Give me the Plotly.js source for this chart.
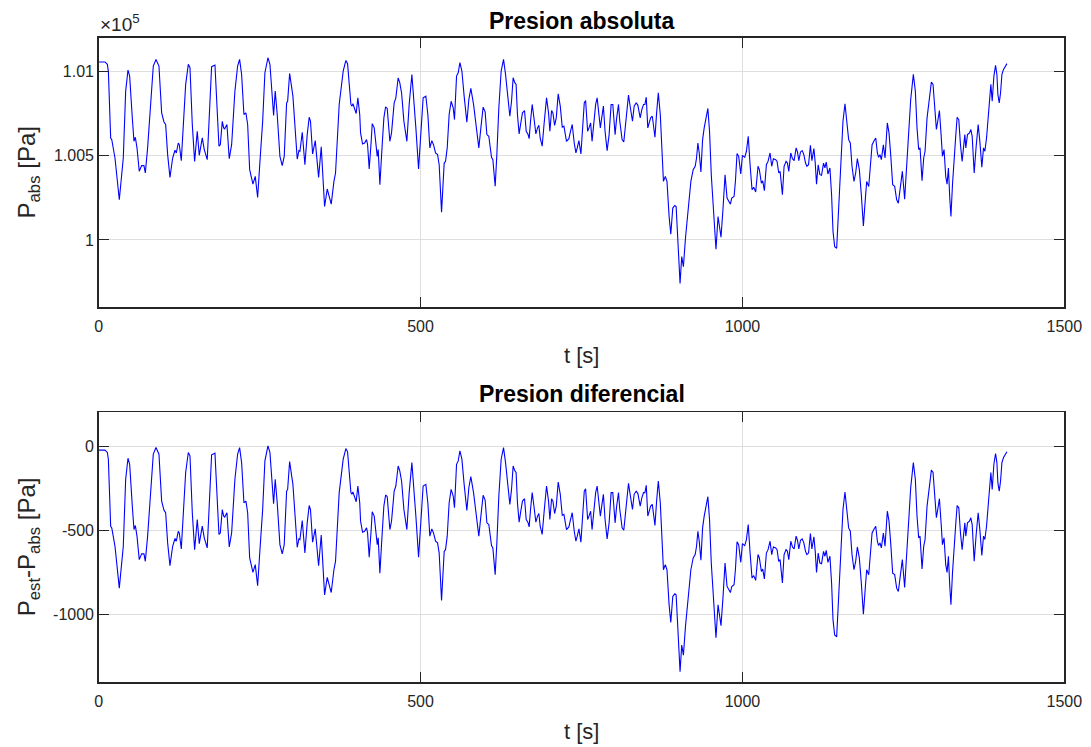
<!DOCTYPE html>
<html>
<head>
<meta charset="utf-8">
<script src="https://cdn.plot.ly/plotly-3.0.1.min.js"></script>
<style>html,body{margin:0;padding:0;background:#fff;}#chart{width:1091px;height:747px;}</style>
</head>
<body>
<div id="chart"></div>
<script>
// time [s]
const t = [
0.5,9.8,13.4,15,18.6,20.3,25.3,32,38.2,41.9,
45.5,48.1,52.2,54.8,56.9,59.5,63,66.7,70.3,72.4,
76,79.7,84.8,89,93.6,97.8,101.4,104,107.1,110.7,
114.9,118.5,120.6,123.6,125.2,128.3,131.4,135.1,139.2,141.8,
145.4,149,153.1,156.2,160.9,164,168.6,171.3,175.4,180.6,
183.2,186.8,188.9,192,194.1,195.7,199.2,202.8,206.5,211.6,
215.8,218.9,222,225.6,228.7,231.4,234.5,239.6,243.2,246.9,
250.5,254.7,258.2,262.9,266,268.6,271.7,274.2,277.3,281.5,
285.1,288.2,291.9,293.5,296.6,301.7,304.8,308.4,311,312.6,
316.2,320.3,323.9,327,329,332.3,336.4,341.6,345.7,350.9,
355,358.1,361.2,365.4,367.9,373.6,379.8,384,386.6,391.8,
393.4,394.9,400,402.6,405.5,406.8,409.9,413,416.1,417.7,
420.2,423.3,424.9,428,430.6,432.7,434.2,436.8,440.4,443,
445.7,448.2,452.3,454.9,459,461.6,465.2,467.7,470.5,474.1,
478.7,482.3,486.5,489.1,492.7,496.9,500.5,504,508.2,511.3,
514.4,517.5,520.1,523.3,526.4,528.9,532.6,536.7,538.8,541.4,
544.4,547.5,550.7,552.7,555.9,558.5,561.1,564.2,567.7,571.9,
575,578.1,582.3,586.9,590.5,593.7,597.2,600.3,603,606,
608.7,610.2,612.3,615.9,618.5,621.6,625.2,628.9,632,635.1,
638.7,641.3,643.8,646.4,648.4,650.5,653.1,655.7,658.3,661.5,
664.1,666.7,668.7,670.8,673.4,676,679.1,681.7,683.8,685.8,
688.9,692,695.7,698.8,700.9,703.5,705.6,708.2,710.8,713.8,
717,720.1,722.7,726.7,730.4,733,735.6,738.7,741.3,743.4,
746,749.1,751.7,754.3,756.4,759.5,761.6,764.2,766.4,769.9,
772,774.3,777.2,779.3,781.4,784,786.6,789.8,792.9,796,
798.6,802.2,804.5,807.5,809.5,813.1,815.7,818.8,823,826.1,
829.2,831.8,834.9,837.5,841.2,843.8,846.4,848.5,850.6,853,
855.3,857.4,860,862.1,864.1,866.7,869.3,872.4,874.5,877.3,
880.2,882.8,886.1,888.7,891.8,894.9,897,900,903.1,905.7,
908.3,911.5,915.7,919.9,923.5,926.6,928.7,930.8,932.9,935.5,
938.1,940.6,946.3,948.9,951.6,955.8,958.9,962.1,966.7,969.9,
973,976.1,978.7,981.3,983.4,987,989.1,991.6,994.2,997.4,
1000,1003.6,1006.2,1009,1011.9,1014.9,1017.5,1020.6,1024.2,1026.3,
1029.4,1031.5,1034.1,1037.2,1039.8,1042.9,1045.5,1048.1,1051.7,1053.8,
1056.4,1058.5,1062.1,1064.7,1067.8,1069.9,1072,1075.1,1077.7,1080.3,
1083.4,1085.5,1087.6,1090.2,1092.8,1095.4,1098,1100.1,1102.7,1105.6,
1107.9,1111,1113.1,1115.1,1117.7,1120.3,1122.9,1126,1128.1,1130.2,
1132.8,1135.9,1138.5,1140.7,1143.3,1146.4,1149.5,1152.6,1156.2,1159.3,
1161.9,1165,1167.6,1170.2,1173.3,1175.9,1178.5,1181.6,1184.7,1187.9,
1191,1193,1196.2,1198.8,1201.4,1204.5,1207.1,1209.6,1211.5,1213.7,
1215.8,1218.9,1221.5,1225.1,1227.7,1230.3,1233.4,1236.5,1239.6,1242.2,
1245.8,1248.4,1252,1255.1,1258.3,1261.4,1265.5,1268.6,1271.2,1273.8,
1275.9,1279,1281.6,1283.7,1286.8,1289.9,1293.5,1296.1,1298.7,1301.3,
1303.4,1306,1308.6,1310.7,1313.2,1315.8,1317.9,1320,1322.1,1323.9,
1326.3,1328.4,1331.5,1333.5,1336.1,1338.7,1341.3,1343.4,1345.5,1347,
1349.6,1352.7,1354.8,1356.9,1360,1363.1,1366.2,1368.8,1371.9,1374.5,
1376.6,1379.2,1381.8,1384.4,1385.9,1388,1390.6,1393.2,1395.3,1396.8,
1398.9,1401,1403.1,1405.6,1407.7,1409.3,1410.9
];

// absolute pressure [Pa]
const pAbs = [
101056,101056,101042,101002,100605,100595,100486,100238,100486,100883,
101008,100972,100724,100585,100609,100546,100407,100441,100441,100397,
100546,100744,101032,101071,101032,100754,100700,100685,100506,100371,
100486,100532,100516,100575,100565,100470,100704,100923,101042,101022,
100685,100466,100645,100502,100605,100536,100476,100724,101028,101038,
100863,100556,100565,100704,100665,100659,100685,100482,100565,100883,
101032,101071,100982,100744,100754,100685,100417,100331,100377,100252,
100466,100704,100992,101081,101042,100903,100738,100883,100744,100496,
100441,100496,100813,100823,100988,100853,100645,100480,100530,100526,
100639,100446,100625,100728,100704,100510,100589,100371,100552,100198,
100302,100248,100212,100347,100397,100804,101002,101065,101046,100804,
100794,100808,100750,100843,100744,100635,100569,100575,100595,100565,
100421,100585,100690,100665,100575,100496,100536,100327,100565,100724,
100790,100780,100585,100635,100813,100843,100962,100933,100873,100704,
100585,100804,100982,100863,100665,100421,100665,100843,100853,100744,
100546,100589,100565,100516,100506,100446,100165,100456,100466,100546,
100744,100823,100784,100714,100972,100992,101052,101002,100853,100698,
100833,100899,100804,100645,100546,100665,100788,100760,100625,100615,
100526,100490,100476,100318,100506,100784,101002,101071,100982,100863,
100734,100823,100962,100933,100923,100744,100629,100694,100754,100768,
100645,100629,100601,100704,100804,100728,100629,100665,100680,100605,
100556,100694,100843,100754,100645,100768,100754,100680,100724,100867,
100794,100669,100675,100585,100601,100645,100685,100575,100516,100546,
100589,100510,100665,100813,100827,100645,100665,100694,100585,100724,
100804,100843,100744,100665,100724,100794,100645,100530,100625,100804,
100804,100625,100720,100804,100704,100595,100581,100714,100859,100780,
100704,100794,100813,100800,100724,100774,100804,100804,100847,100665,
100694,100724,100734,100665,100609,100754,100873,100744,100565,100347,
100377,100347,100139,100034,100189,100204,100198,99931,99742,99901,
99841,100010,100189,100347,100417,100437,100486,100575,100516,100403,
100595,100665,100780,100645,100387,100109,99944,100139,100016,100189,
100387,100248,100228,100212,100248,100258,100347,100512,100496,100391,
100502,100490,100526,100615,100446,100298,100312,100284,100437,100417,
100337,100351,100292,100446,100466,100516,100437,100482,100476,100466,
100397,100407,100268,100437,100466,100456,100407,100516,100482,100470,
100546,100522,100470,100522,100530,100506,100456,100437,100446,100562,
100470,100542,100456,100331,100446,100387,100383,100456,100427,100462,
100391,100427,100268,100050,99960,99950,100189,100466,100704,100808,
100714,100595,100575,100437,100347,100397,100482,100417,100268,100083,
100248,100347,100317,100427,100565,100589,100605,100516,100490,100506,
100476,100565,100486,100694,100635,100506,100327,100318,100238,100218,
100327,100407,100242,100427,100645,100833,100982,100883,100665,100536,
100546,100351,100486,100526,100724,100843,100937,100923,100784,100655,
100704,100768,100625,100496,100536,100377,100331,100427,100248,100139,
100327,100482,100625,100728,100714,100565,100466,100546,100625,100546,
100625,100635,100655,100615,100397,100556,100685,100585,100431,100546,
100526,100605,100724,100823,100923,100823,100972,101036,100982,100863,
100813,100873,100982,101012,101026,101032,101046
];

// differential pressure [Pa]
const pDif = [
-24,-24,-38,-78,-475,-485,-594,-842,-594,-197,
-72,-108,-356,-495,-471,-534,-673,-639,-639,-683,
-534,-336,-48,-9,-48,-326,-380,-395,-574,-709,
-594,-548,-564,-505,-515,-610,-376,-157,-38,-58,
-395,-614,-435,-578,-475,-544,-604,-356,-52,-42,
-217,-524,-515,-376,-415,-421,-395,-598,-515,-197,
-48,-9,-98,-336,-326,-395,-663,-749,-703,-828,
-614,-376,-88,1,-38,-177,-342,-197,-336,-584,
-639,-584,-267,-257,-92,-227,-435,-600,-550,-554,
-441,-634,-455,-352,-376,-570,-491,-709,-528,-882,
-778,-832,-868,-733,-683,-276,-78,-15,-34,-276,
-286,-272,-330,-237,-336,-445,-511,-505,-485,-515,
-659,-495,-390,-415,-505,-584,-544,-753,-515,-356,
-290,-300,-495,-445,-267,-237,-118,-147,-207,-376,
-495,-276,-98,-217,-415,-659,-415,-237,-227,-336,
-534,-491,-515,-564,-574,-634,-915,-624,-614,-534,
-336,-257,-296,-366,-108,-88,-28,-78,-227,-382,
-247,-181,-276,-435,-534,-415,-292,-320,-455,-465,
-554,-590,-604,-762,-574,-296,-78,-9,-98,-217,
-346,-257,-118,-147,-157,-336,-451,-386,-326,-312,
-435,-451,-479,-376,-276,-352,-451,-415,-400,-475,
-524,-386,-237,-326,-435,-312,-326,-400,-356,-213,
-286,-411,-405,-495,-479,-435,-395,-505,-564,-534,
-491,-570,-415,-267,-253,-435,-415,-386,-495,-356,
-276,-237,-336,-415,-356,-286,-435,-550,-455,-276,
-276,-455,-360,-276,-376,-485,-499,-366,-221,-300,
-376,-286,-267,-280,-356,-306,-276,-276,-233,-415,
-386,-356,-346,-415,-471,-326,-207,-336,-515,-733,
-703,-733,-941,-1046,-891,-876,-882,-1149,-1338,-1179,
-1239,-1070,-891,-733,-663,-643,-594,-505,-564,-677,
-485,-415,-300,-435,-693,-971,-1136,-941,-1064,-891,
-693,-832,-852,-868,-832,-822,-733,-568,-584,-689,
-578,-590,-554,-465,-634,-782,-768,-796,-643,-663,
-743,-729,-788,-634,-614,-564,-643,-598,-604,-614,
-683,-673,-812,-643,-614,-624,-673,-564,-598,-610,
-534,-558,-610,-558,-550,-574,-624,-643,-634,-518,
-610,-538,-624,-749,-634,-693,-697,-624,-653,-618,
-689,-653,-812,-1030,-1120,-1130,-891,-614,-376,-272,
-366,-485,-505,-643,-733,-683,-598,-663,-812,-997,
-832,-733,-763,-653,-515,-491,-475,-564,-590,-574,
-604,-515,-594,-386,-445,-574,-753,-762,-842,-862,
-753,-673,-838,-653,-435,-247,-98,-197,-415,-544,
-534,-729,-594,-554,-356,-237,-143,-157,-296,-425,
-376,-312,-455,-584,-544,-703,-749,-653,-832,-941,
-753,-598,-455,-352,-366,-515,-614,-534,-455,-534,
-455,-445,-425,-465,-683,-524,-395,-495,-649,-534,
-554,-475,-356,-257,-157,-257,-108,-44,-98,-217,
-267,-207,-98,-68,-54,-48,-34
];

const xTicks = [0, 500, 1000, 1500];
const yTicksAbs = [100000, 100500, 101000];
const yTickTextAbs = ['1', '1.005', '1.01'];
const yTicksDif = [-1000, -500, 0];
const yTickTextDif = ['-1000', '-500', '0'];

const FONT = 'Liberation Sans, Arial, Helvetica, sans-serif';
const DARK = '#262626';
const W = 1091, H = 747;
const px = v => v / W;
const py = v => 1 - v / H;

const axisCommon = {
  ticks: 'inside', ticklen: 10, tickwidth: 1, tickcolor: DARK,
  showline: true, linecolor: DARK, linewidth: 1.5, mirror: 'allticks',
  showgrid: true, gridcolor: '#dedede', gridwidth: 1, zeroline: false,
  tickfont: {family: FONT, size: 16, color: DARK}
};

const data = [
  {x: t, y: pAbs, type: 'scatter', mode: 'lines', xaxis: 'x', yaxis: 'y',
   line: {color: '#0000ff', width: 1.1}, hoverinfo: 'x+y'},
  {x: t, y: pDif, type: 'scatter', mode: 'lines', xaxis: 'x2', yaxis: 'y2',
   line: {color: '#0000ff', width: 1.1}, hoverinfo: 'x+y'}
];

const xdom = [px(98.7), px(1064.3)];
const layout = {
  width: W, height: H,
  margin: {l: 0, r: 0, t: 0, b: 0},
  paper_bgcolor: '#ffffff', plot_bgcolor: '#ffffff',
  showlegend: false,
  font: {family: FONT, color: DARK},
  xaxis: Object.assign({}, axisCommon, {domain: xdom, anchor: 'y', range: [0, 1500], tickvals: xTicks, ticklabelstandoff: 4}),
  yaxis: Object.assign({}, axisCommon, {domain: [py(307.3), py(37.7)], anchor: 'x', range: [99600, 101200],
    tickvals: yTicksAbs, ticktext: yTickTextAbs}),
  xaxis2: Object.assign({}, axisCommon, {domain: xdom, anchor: 'y2', range: [0, 1500], tickvals: xTicks, ticklabelstandoff: 4}),
  yaxis2: Object.assign({}, axisCommon, {domain: [py(682.3), py(412.3)], anchor: 'x2', range: [-1400, 200],
    tickvals: yTicksDif, ticktext: yTickTextDif}),
  annotations: [
    {text: '<b>Presion absoluta</b>', xref: 'paper', yref: 'paper', x: px(581.5), y: py(21), xanchor: 'center', yanchor: 'middle',
     showarrow: false, font: {family: FONT, size: 23, color: '#000000'}},
    {text: '<b>Presion diferencial</b>', xref: 'paper', yref: 'paper', x: px(581.5), y: py(394), xanchor: 'center', yanchor: 'middle',
     showarrow: false, font: {family: FONT, size: 23, color: '#000000'}},
    {text: 't [s]', xref: 'paper', yref: 'paper', x: px(581.5), y: py(356), xanchor: 'center', yanchor: 'middle',
     showarrow: false, font: {family: FONT, size: 22, color: DARK}},
    {text: 't [s]', xref: 'paper', yref: 'paper', x: px(581.5), y: py(731), xanchor: 'center', yanchor: 'middle',
     showarrow: false, font: {family: FONT, size: 22, color: DARK}},
    {text: 'P<sub>abs</sub> [Pa]', xref: 'paper', yref: 'paper', x: px(28), y: py(172.5), xanchor: 'center', yanchor: 'middle',
     textangle: -90, showarrow: false, font: {family: FONT, size: 24, color: DARK}},
    {text: 'P<sub>est</sub>-P<sub>abs</sub> [Pa]', xref: 'paper', yref: 'paper', x: px(28), y: py(547.3), xanchor: 'center', yanchor: 'middle',
     textangle: -90, showarrow: false, font: {family: FONT, size: 24, color: DARK}},
    {text: '×10<sup>5</sup>', xref: 'paper', yref: 'paper', x: px(98), y: py(37), xanchor: 'left', yanchor: 'bottom',
     showarrow: false, font: {family: FONT, size: 19, color: DARK}}
  ]
};

Plotly.newPlot('chart', data, layout, {displayModeBar: false, staticPlot: true});
</script>
</body>
</html>
